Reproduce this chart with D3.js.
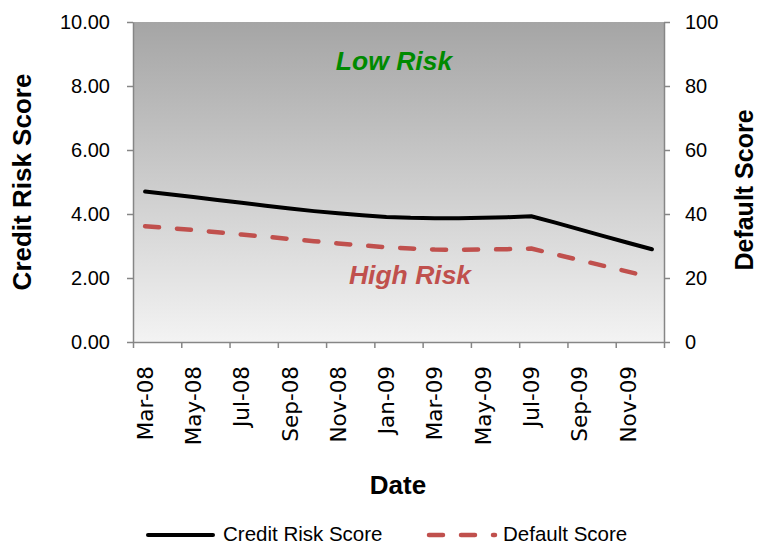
<!DOCTYPE html>
<html>
<head>
<meta charset="utf-8">
<script src="https://cdn.jsdelivr.net/npm/d3@7"></script>
<style>
  html, body { margin: 0; padding: 0; background: #fff; }
  svg { display: block; }
  text { font-family: "Liberation Sans", Arial, sans-serif; fill: #000; }
</style>
</head>
<body>
<svg id="chart" width="757" height="544"></svg>
<script>
// Monthly observations, Mar-08 .. Dec-09
const months = ["Mar-08","Apr-08","May-08","Jun-08","Jul-08","Aug-08","Sep-08","Oct-08","Nov-08","Dec-08",
                "Jan-09","Feb-09","Mar-09","Apr-09","May-09","Jun-09","Jul-09","Aug-09","Sep-09","Oct-09","Nov-09","Dec-09"];
const creditRisk = [4.70, 4.62, 4.53, 4.44, 4.35, 4.26, 4.17, 4.09, 4.02, 3.96,
                    3.91, 3.88, 3.87, 3.87, 3.88, 3.90, 3.93, 3.73, 3.52, 3.31, 3.10, 2.90];
const defaultScore = [36.2, 35.6, 35.0, 34.3, 33.6, 32.9, 32.2, 31.5, 30.8, 30.2,
                      29.6, 29.2, 28.9, 28.8, 28.9, 29.0, 29.2, 27.4, 25.6, 23.8, 22.0, 20.2];
const leftTicks = [0, 2, 4, 6, 8, 10];
const rightTicks = [0, 20, 40, 60, 80, 100];
const dateLabels = months.filter((m, i) => i % 2 === 0);

const svg = d3.select("#chart");
const plotL = 133, plotR = 664, plotT = 22, plotB = 342;
const axisColor = "#868686";

// Month bands; points sit in the middle of their month
const x = d3.scaleBand().domain(months).range([plotL, plotR]).padding(0);
const xc = m => x(m) + x.bandwidth() / 2;
const yL = d3.scaleLinear().domain([0, 10]).range([plotB, plotT]);
const yR = d3.scaleLinear().domain([0, 100]).range([plotB, plotT]);

// Plot background gradient
const defs = svg.append("defs");
const grad = defs.append("linearGradient").attr("id", "bg").attr("x1", 0).attr("y1", 0).attr("x2", 0).attr("y2", 1);
grad.append("stop").attr("offset", "0%").attr("stop-color", "#a5a5a5");
grad.append("stop").attr("offset", "100%").attr("stop-color", "#f3f3f3");
svg.append("rect").attr("x", plotL).attr("y", plotT).attr("width", plotR - plotL).attr("height", plotB - plotT)
  .attr("fill", "url(#bg)");

// Zone labels
svg.append("text").attr("x", 394).attr("y", 70).attr("text-anchor", "middle")
  .style("font-size", "26.5px").style("font-weight", "bold").style("font-style", "italic")
  .style("fill", "#008a00").text("Low Risk");
svg.append("text").attr("x", 410).attr("y", 284).attr("text-anchor", "middle")
  .style("font-size", "26.5px").style("font-weight", "bold").style("font-style", "italic")
  .style("fill", "#c0504d").text("High Risk");

function styleAxis(g) {
  g.select(".domain").attr("stroke", axisColor).attr("stroke-width", 1.5);
  g.selectAll(".tick line").attr("stroke", axisColor).attr("stroke-width", 1.5);
  g.selectAll(".tick text").style("font-family", "\"Liberation Sans\", Arial, sans-serif")
    .style("font-size", "20px").attr("fill", "#000");
}

// Left axis
svg.append("g").attr("transform", `translate(${plotL},0)`)
  .call(d3.axisLeft(yL).tickValues(leftTicks).tickFormat(d3.format(".2f")).tickSizeInner(6).tickSizeOuter(0).tickPadding(17))
  .call(styleAxis);

// Right axis
svg.append("g").attr("transform", `translate(${plotR},0)`)
  .call(d3.axisRight(yR).tickValues(rightTicks).tickFormat(d3.format("d")).tickSizeInner(6).tickSizeOuter(0).tickPadding(15))
  .call(styleAxis);

// Bottom axis: ticks at every second month boundary
const xIdx = d3.scaleLinear().domain([0, months.length]).range([plotL, plotR]);
const bTicks = d3.range(0, months.length + 1, 2);
svg.append("g").attr("transform", `translate(0,${plotB})`)
  .call(d3.axisBottom(xIdx).tickValues(bTicks).tickFormat("").tickSizeInner(6).tickSizeOuter(0))
  .call(styleAxis);

// Date labels, rotated, centred on their month
svg.append("g").selectAll("text").data(dateLabels).join("text")
  .attr("transform", d => `translate(${xc(d)},366) rotate(-90)`)
  .attr("text-anchor", "end").attr("dy", "0.36em")
  .style("font-family", "\"DejaVu Sans\", sans-serif").style("font-size", "21.5px")
  .text(d => d);

// Series lines
const lineL = d3.line().x((d, i) => xc(months[i])).y(d => yL(d));
const lineR = d3.line().x((d, i) => xc(months[i])).y(d => yR(d));

svg.append("path").datum(defaultScore).attr("d", lineR)
  .attr("fill", "none").attr("stroke", "#c0504d").attr("stroke-width", 4.5)
  .attr("stroke-dasharray", "14,18").attr("stroke-linecap", "round").attr("stroke-linejoin", "round");
svg.append("path").datum(creditRisk).attr("d", lineL)
  .attr("fill", "none").attr("stroke", "#000").attr("stroke-width", 4)
  .attr("stroke-linecap", "round").attr("stroke-linejoin", "round");

// Axis titles
svg.append("text").attr("transform", "translate(22,182) rotate(-90)").attr("text-anchor", "middle")
  .attr("dy", "0.36em").style("font-size", "26px").style("font-weight", "bold").text("Credit Risk Score");
svg.append("text").attr("transform", "translate(744,190) rotate(-90)").attr("text-anchor", "middle")
  .attr("dy", "0.36em").style("font-size", "25px").style("font-weight", "bold").text("Default Score");
svg.append("text").attr("x", 398).attr("y", 494).attr("text-anchor", "middle")
  .style("font-size", "26px").style("font-weight", "bold").text("Date");

// Legend
const legY = 534;
svg.append("line").attr("x1", 148).attr("x2", 213).attr("y1", legY + 1).attr("y2", legY + 1)
  .attr("stroke", "#000").attr("stroke-width", 4).attr("stroke-linecap", "round");
svg.append("text").attr("x", 223).attr("y", legY).attr("dy", "0.36em").style("font-size", "20.5px").text("Credit Risk Score");
svg.append("line").attr("x1", 429).attr("x2", 495).attr("y1", legY + 1).attr("y2", legY + 1)
  .attr("stroke", "#c0504d").attr("stroke-width", 4.5).attr("stroke-dasharray", "14,18").attr("stroke-linecap", "round");
svg.append("text").attr("x", 503).attr("y", legY).attr("dy", "0.36em").style("font-size", "20.5px").text("Default Score");
</script>
</body>
</html>
